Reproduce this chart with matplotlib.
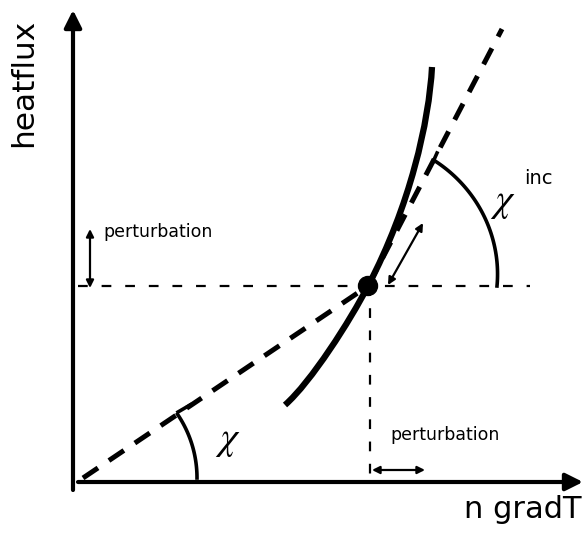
"""
Schematic: heat flux vs n gradT, chord slope chi vs incremental slope chi^inc.
Drawn in pixel coordinates of the original figure (583 x 535).
"""
import numpy as np
import matplotlib
matplotlib.use('Agg')
import matplotlib.pyplot as plt
from matplotlib.patches import FancyArrowPatch, Circle, PathPatch
from matplotlib.path import Path

plt.rcParams['lines.scale_dashes'] = False
plt.rcParams['mathtext.fontset'] = 'stix'

W, H = 583, 535
INK = 'black'

# ── schematic geometry (pixel coords, y downward) ───────────────────────────
origin = (83, 478)              # start of chord line
op_pt = (368, 286)              # operating point
tangent_end = (502, 29)         # upper end of incremental (tangent) line
# curve as two cubic Bezier pieces joined at the operating point
curve_lo = [(285, 405), (311, 382), (350, 321), (368, 286)]
curve_hi = [(368, 286), (410, 206), (429, 122), (432, 67)]
y_axis = [(73, 490), (73, 10)]
x_axis = [(78, 482), (583, 482)]

fig = plt.figure(figsize=(W / 100, H / 100), dpi=100)
ax = fig.add_axes([0, 0, 1, 1])
ax.set_xlim(0, W); ax.set_ylim(H, 0)
ax.axis('off')

def arrow(p0, p1, style, lw, ms, **kw):
    a = FancyArrowPatch(p0, p1, arrowstyle=style, mutation_scale=ms,
                        lw=lw, color=INK, shrinkA=0, shrinkB=0, **kw)
    ax.add_patch(a)

# axes with arrowheads
arrow(y_axis[0], y_axis[1], '-|>', 3.0, 26)
arrow(x_axis[0], x_axis[1], '-|>', 3.0, 26)

# thin dashed guide lines through the operating point
ax.plot([78, 530], [op_pt[1], op_pt[1]], color=INK, lw=1.6, dashes=(7, 10))
ax.plot([op_pt[0] + 2, op_pt[0] + 2], [op_pt[1], 482], color=INK, lw=1.6, dashes=(7, 9))

# heavy dashed chord and tangent
ax.plot([origin[0], op_pt[0]], [origin[1], op_pt[1]], color=INK, lw=3.6,
        dashes=(13, 9.5), solid_capstyle='butt')
ax.plot([op_pt[0], tangent_end[0]], [op_pt[1], tangent_end[1]], color=INK, lw=3.6,
        dashes=(13, 9.5), solid_capstyle='butt')

# the characteristic curve
codes = [Path.MOVETO, Path.CURVE4, Path.CURVE4, Path.CURVE4,
         Path.CURVE4, Path.CURVE4, Path.CURVE4]
verts = curve_lo + curve_hi[1:]
ax.add_patch(PathPatch(Path(verts, codes), fill=False, lw=4.5, ec=INK,
                       capstyle='butt'))
ax.add_patch(Circle(op_pt, 9.5, color=INK, zorder=5))

# chi arc around the origin
th_chord = np.arctan2(origin[1] - op_pt[1], op_pt[0] - origin[0])
th = np.linspace(0, th_chord, 60)
ax.plot(origin[0] + 114 * np.cos(th), origin[1] - 114 * np.sin(th), color=INK, lw=2.6)
ax.plot([178, 190], [412, 405], color=INK, lw=2.6)

# chi^inc arc around the operating point (slightly elliptic)
th_tan = np.arctan2(op_pt[1] - tangent_end[1], tangent_end[0] - op_pt[0])
th = np.linspace(0, th_tan, 60)
r = 129 + 13 * th / th_tan
ax.plot(op_pt[0] + r * np.cos(th), op_pt[1] - r * np.sin(th), color=INK, lw=2.6)
ax.plot([433, 437], [162, 153], color=INK, lw=2.6)

# perturbation arrows
arrow((90, 288), (90, 229), '<|-|>', 1.6, 11)
arrow((372, 470), (425, 470), '<|-|>', 1.6, 11)
arrow((388, 285), (423, 223), '<|-|>', 1.6, 11)

# labels
ax.text(24, 83, 'heatflux', rotation=90, fontsize=22.5, ha='center', va='center')
ax.text(582, 518, 'n gradT', fontsize=22, ha='right', va='baseline')
ax.text(103, 232, 'perturbation', fontsize=12.5, ha='left', va='center')
ax.text(390, 435, 'perturbation', fontsize=12.5, ha='left', va='center')
ax.text(228, 440, r'$\chi$', fontsize=28, ha='center', va='center')
ax.text(503, 202, r'$\chi$', fontsize=28, ha='center', va='center')
ax.text(538, 178, 'inc', fontsize=14, ha='center', va='center')

fig.savefig('out.png', dpi=100, facecolor='white')
plt.close(fig)
